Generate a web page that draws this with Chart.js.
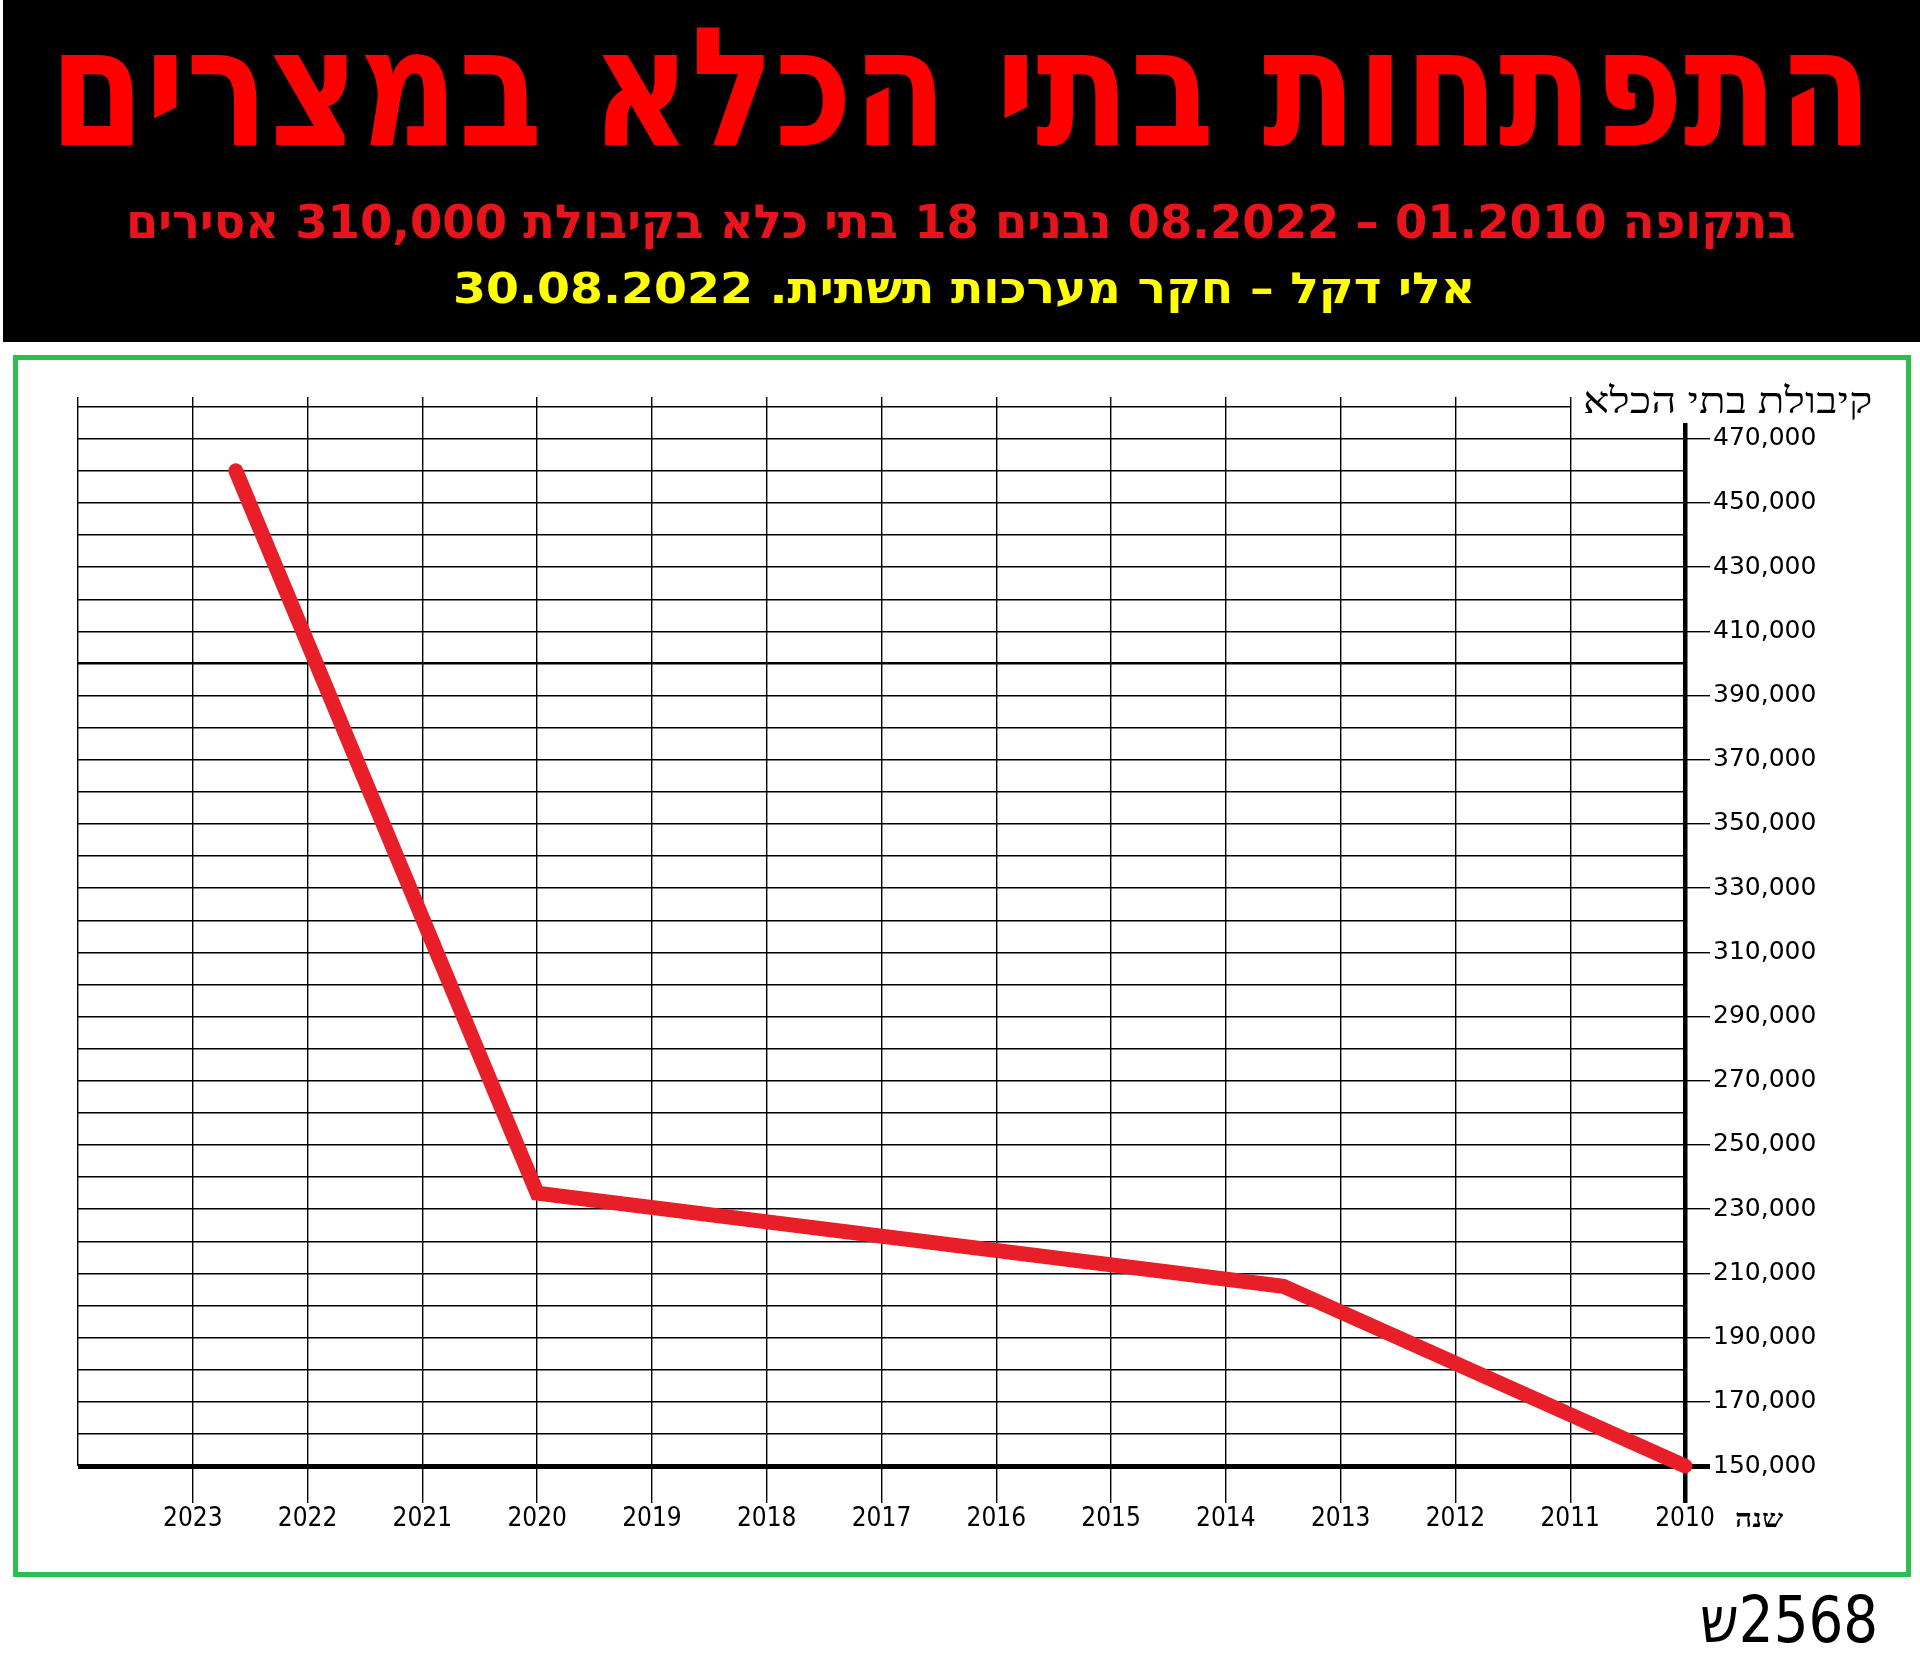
<!DOCTYPE html>
<html lang="he">
<head>
<meta charset="utf-8">
<title>התפתחות בתי הכלא במצרים</title>
<script src="https://cdn.jsdelivr.net/npm/chart.js@4.4.1/dist/chart.umd.min.js"></script>
<style>
  body { margin: 0; width: 1920px; height: 1657px; background: #fff; position: relative; overflow: hidden; font-family: "DejaVu Sans", sans-serif; }
  #header { position: absolute; left: 3px; top: 0; width: 1917px; height: 342px; background: #000; }
  #frame { position: absolute; left: 13px; top: 355px; width: 1888px; height: 1212px; border: 5px solid #2dbe50; }
  #chart { position: absolute; left: 0; top: 0; }
  .txt { position: absolute; white-space: nowrap; line-height: 1; transform-origin: 0 0; }
</style>
</head>
<body>
<div id="header"></div>
<div id="frame"></div>
<canvas id="chart" width="1920" height="1657"></canvas>

<div class="txt" dir="rtl" id="t1" style="left:49px; top:6px; font-size:165px; font-weight:bold; color:#ff0000;">התפתחות בתי הכלא במצרים</div>
<div class="txt" dir="rtl" id="t2" style="left:126px; top:198px; font-size:47px; font-weight:bold; color:#e8141c;">בתקופה 01.2010 – 08.2022 נבנים 18 בתי כלא בקיבולת 310,000 אסירים</div>
<div class="txt" dir="rtl" id="t3" style="left:453px; top:267px; font-size:43px; font-weight:bold; color:#ffff00;">אלי דקל – חקר מערכות תשתית. 30.08.2022</div>
<div class="txt" dir="rtl" id="ytitle" style="left:1583px; top:383px; font-size:36px; font-family:'Liberation Serif', serif; color:#000;">קיבולת בתי הכלא</div>
<div class="txt" dir="rtl" id="xtitle" style="left:1735px; top:1506px; font-size:25px; font-weight:bold; font-family:'Liberation Serif', serif; color:#000;">שנה</div>
<div class="txt" id="code" style="left:1700px; top:1588px; font-size:64px; color:#000;"><bdo dir="ltr">ש2568</bdo></div>

<script>
// capacity of Egyptian prisons (x = year, fractional)
const years = [2022.625, 2020, 2013.5, 2010];
const capacity = [460000, 235000, 206000, 150000];

const xTicks = [2010, 2011, 2012, 2013, 2014, 2015, 2016, 2017, 2018, 2019, 2020, 2021, 2022, 2023, 2024];
const yearLabels = ['2010', '2011', '2012', '2013', '2014', '2015', '2016', '2017', '2018', '2019', '2020', '2021', '2022', '2023', ''];
const yTicks = [150000, 160000, 170000, 180000, 190000, 200000, 210000, 220000, 230000, 240000,
  250000, 260000, 270000, 280000, 290000, 300000, 310000, 320000, 330000, 340000,
  350000, 360000, 370000, 380000, 390000, 400000, 410000, 420000, 430000, 440000,
  450000, 460000, 470000, 480000];
const yLabelled = [150000, 170000, 190000, 210000, 230000, 250000, 270000, 290000,
  310000, 330000, 350000, 370000, 390000, 410000, 430000, 450000, 470000];

// squeeze the texts to the widths they have in the picture
function fitWidth(id, w) {
  const el = document.getElementById(id);
  el.style.transform = 'scaleX(' + (w / el.offsetWidth) + ')';
}
fitWidth('t1', 1824);
fitWidth('t2', 1670);
fitWidth('t3', 1022);
fitWidth('ytitle', 290);
fitWidth('xtitle', 48);
fitWidth('code', 178);

const none = 'rgba(0,0,0,0)';

// top grid line stops at 2011, the axis line starts a bit under the top
function cutLine(chart, horizontal, cut, blackFirst) {
  const ctx = chart.ctx;
  const len = horizontal ? chart.width : chart.height;
  const g = horizontal ? ctx.createLinearGradient(0, 0, len, 0) : ctx.createLinearGradient(0, 0, 0, len);
  const t = Math.min(Math.max(cut / len, 0), 1);
  g.addColorStop(0, blackFirst ? '#000' : none);
  g.addColorStop(t, blackFirst ? '#000' : none);
  g.addColorStop(t, blackFirst ? none : '#000');
  g.addColorStop(1, blackFirst ? none : '#000');
  return g;
}

new Chart(document.getElementById('chart').getContext('2d'), {
  type: 'line',
  data: {
    datasets: [{
      data: years.map((x, i) => ({ x: x, y: capacity[i] })),
      borderColor: 'rgb(232,30,40)',
      borderWidth: 15,
      borderCapStyle: 'round',
      borderJoinStyle: 'miter',
      pointRadius: 0,
      tension: 0,
      clip: false
    }]
  },
  options: {
    responsive: false,
    animation: false,
    layout: { padding: { left: 78, top: 397, right: 35, bottom: 101 } },
    plugins: { legend: { display: false }, tooltip: { enabled: false } },
    scales: {
      x: {
        type: 'linear',
        reverse: true,
        min: 2010,
        max: 2024,
        afterBuildTicks: s => { s.ticks = xTicks.map(v => ({ value: v })); },
        afterFit: s => { s.height = 90; },
        border: { display: false },
        grid: {
          color: c => {
            if (c.tick && c.tick.value === 2010 && c.chart.scales.y) {
              return cutLine(c.chart, false, c.chart.scales.y.getPixelForValue(475000), false);
            }
            return '#000';
          },
          lineWidth: c => (c.tick && c.tick.value === 2010 ? 4.5 : 1.4),
          tickWidth: c => (c.tick && c.tick.value === 2010 ? 4.5 : 1.4),
          tickColor: c => (c.tick && c.tick.value === 2024 ? none : '#000'),
          tickLength: 37
        },
        ticks: {
          autoSkip: false,
          maxRotation: 0,
          padding: 1,
          color: '#000',
          font: { family: 'DejaVu Sans Condensed', size: 26 },
          callback: (v) => yearLabels[xTicks.indexOf(v)]
        }
      },
      y: {
        type: 'linear',
        position: 'right',
        min: 150000,
        max: 483000,
        afterBuildTicks: s => { s.ticks = yTicks.map(v => ({ value: v })); },
        afterFit: s => { s.width = 200; },
        border: { display: false },
        grid: {
          color: c => {
            if (c.tick && c.tick.value === 480000 && c.chart.scales.x) {
              return cutLine(c.chart, true, c.chart.scales.x.getPixelForValue(2011), true);
            }
            return '#000';
          },
          lineWidth: c => {
            const v = c.tick ? c.tick.value : 0;
            if (v === 150000) return 5;
            if (v === 400000) return 2.5;
            return 1.4;
          },
          tickWidth: c => (c.tick && c.tick.value === 150000 ? 5 : 1.4),
          tickColor: c => (c.tick && yLabelled.includes(c.tick.value) ? '#000' : none),
          tickLength: 25
        },
        ticks: {
          autoSkip: false,
          padding: 3,
          color: '#000',
          font: { family: 'DejaVu Sans', size: 25 },
          callback: v => (yLabelled.includes(v) ? v.toLocaleString('en-US') : '')
        }
      }
    }
  }
});
</script>
</body>
</html>
